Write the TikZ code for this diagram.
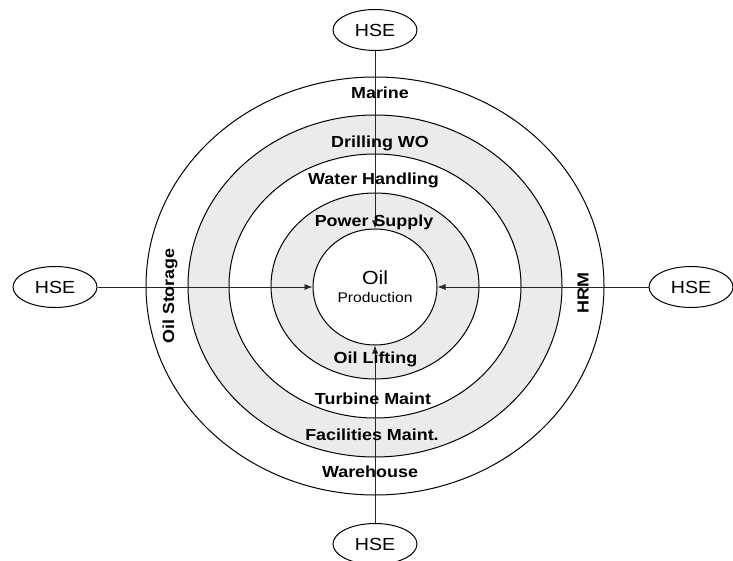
\documentclass[tikz,border=0pt]{standalone}
\usepackage{fontspec}
\setmainfont{Liberation Sans}[FakeStretch=1.12]
\usetikzlibrary{shapes.geometric, arrows.meta, positioning}
\definecolor{ringgray}{HTML}{EBEBEB}
\tikzstyle{ring} = [ellipse, draw=black, line width=1pt, inner sep=0pt]
\tikzstyle{hse} = [ellipse, draw=black, line width=1pt, fill=white, minimum width=84pt, minimum height=41pt, inner sep=0pt, font=\fontsize{17.5}{20}\selectfont]
\tikzstyle{unit} = [anchor=base, font=\bfseries\fontsize{16}{19}\selectfont]
\tikzstyle{arrow} = [draw=black!85, line width=0.7pt, -{Latex[length=8pt,width=6pt]}]

\begin{document}
\begin{tikzpicture}[x=1pt, y=-1pt]
        \useasboundingbox (0,0) rectangle (733,561);

        % Ringe
        \node (ring1) [ring, fill=white, minimum width=458pt, minimum height=418pt] at (375,286) {};
        \node (ring2) [ring, fill=ringgray, minimum width=374pt, minimum height=342pt] at (375,286) {};
        \node (ring3) [ring, fill=white, minimum width=292pt, minimum height=264pt] at (375,286) {};
        \node (ring4) [ring, fill=ringgray, minimum width=208pt, minimum height=186pt] at (375,286) {};

        % Kern
        \node (core) [ring, fill=white, minimum width=124pt, minimum height=116pt, align=center] at (375,287)
            {{\fontsize{19}{19}\selectfont Oil}\\[6pt]{\fontsize{14}{16}\selectfont Production}};

        % HSE
        \node (hseT) [hse] at (375,30) {HSE};
        \node (hseB) [hse] at (375,544) {HSE};
        \node (hseL) [hse] at (55,287) {HSE};
        \node (hseR) [hse] at (691,287) {HSE};

        % Pfeile
        \draw [arrow] (hseT) -- (core);
        \draw [arrow] (hseB) -- (core);
        \draw [arrow] (hseL) -- (core);
        \draw [arrow] (hseR) -- (core);

        % Bereiche
        \node (marine) [unit] at (380,99) {Marine};
        \node (drilling) [unit] at (380,147.5) {Drilling WO};
        \node (water) [unit] at (373.5,185) {Water Handling};
        \node (power) [unit] at (374,226.5) {Power Supply};
        \node (lifting) [unit] at (375.5,363) {Oil Lifting};
        \node (turbine) [unit] at (373,404) {Turbine Maint};
        \node (facilities) [unit] at (372,440) {Facilities Maint.};
        \node (warehouse) [unit] at (370,477) {Warehouse};
        \node (storage) [font=\bfseries\fontsize{16}{19}\selectfont, rotate=90] at (170,296) {Oil Storage};
        \node (hrm) [font=\bfseries\fontsize{16}{19}\selectfont, rotate=90] at (583,293) {HRM};
\end{tikzpicture}
\end{document}
